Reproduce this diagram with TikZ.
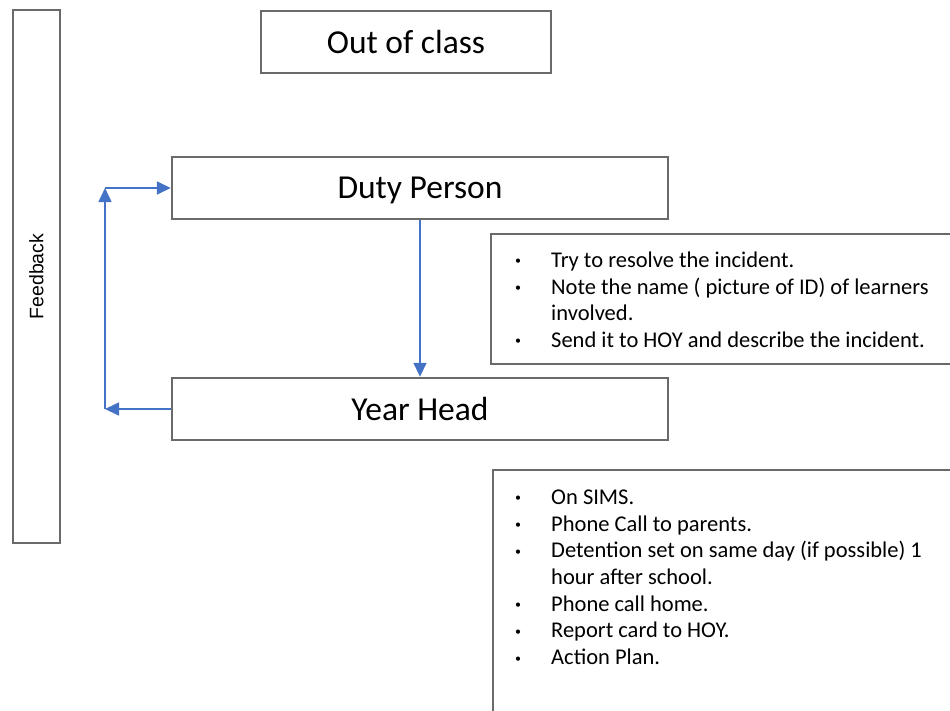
\documentclass[tikz,border=0pt]{standalone}
\usepackage{fontspec}
\setmainfont{Carlito}
\newfontfamily\arialfont{Liberation Sans}
\usetikzlibrary{arrows.meta}
\definecolor{boxgray}{HTML}{6A6A6A}
\definecolor{flowblue}{HTML}{4472C4}
\newcommand{\listdot}{\raisebox{2.5pt}{\fontsize{12}{12}\selectfont\textbullet}}

\begin{document}
\begin{tikzpicture}[x=1pt,y=-1pt]
        \useasboundingbox (0,0) rectangle (950,710);
        \begin{scope}[every node/.style={draw=boxgray, line width=2.4pt, rectangle, inner sep=0, minimum height=62pt, text depth=0pt, font=\fontsize{33.5}{40}\selectfont}]
            \node[minimum width=47pt, minimum height=533pt] (Feedback) at (36.5,276.5) {};
            \node[minimum width=290pt] (OutClass) at (406,42) {Out of class};
            \node[minimum width=496pt] (Duty) at (420,188) {Duty Person};
            \node[minimum width=496pt] (YearHead) at (420,409) {Year Head};
            \node[minimum width=464pt, minimum height=130pt] (DutyNotes) at (723,299) {};
            \node[minimum width=462pt, minimum height=250pt] (HeadNotes) at (724,595) {};
        \end{scope}
        \node[rotate=90, font=\arialfont\fontsize{19.5}{22}\selectfont] (FeedbackLbl) at (Feedback.center) {Feedback};
        \begin{scope}[every node/.style={anchor=north west, inner sep=0, align=left, font=\fontsize{22.5}{26.7}\selectfont}]
            \node (DutyList) at (515,248.5) {\begin{tabular}{@{}p{36pt}@{}l@{}}
                \listdot & Try to resolve the incident.\\
                \listdot & Note the name ( picture of ID) of learners\\
                 & involved.\\
                \listdot & Send it to HOY and describe the incident.
            \end{tabular}};
            \node (HeadList) at (515,485.5) {\begin{tabular}{@{}p{36pt}@{}l@{}}
                \listdot & On SIMS.\\
                \listdot & Phone Call to parents.\\
                \listdot & Detention set on same day (if possible) 1\\
                 & hour after school.\\
                \listdot & Phone call home.\\
                \listdot & Report card to HOY.\\
                \listdot & Action Plan.
            \end{tabular}};
        \end{scope}
        \coordinate (BendLow) at (105,409);
        \coordinate (BendHigh) at (BendLow |- Duty.west);
        \begin{scope}[every path/.style={flowblue, line width=1.6pt}, >={Triangle[length=14pt,width=13pt]}]
            \draw[->] (Duty) -- (YearHead);
            \draw[->] (YearHead.west) -- (BendLow);
            \draw[->] (BendLow) -- (BendHigh);
            \draw[->] (BendHigh) -- (Duty.west);
        \end{scope}
    \end{tikzpicture}
\end{document}
